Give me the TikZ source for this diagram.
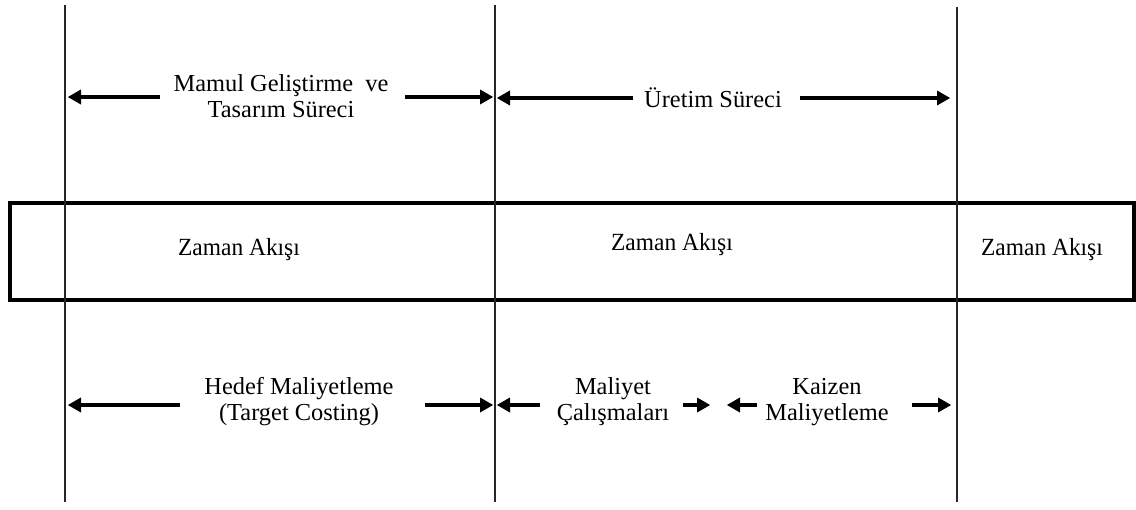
\documentclass[tikz,border=0pt]{standalone}
\usepackage{fontspec}
\setmainfont{Liberation Serif}
\usetikzlibrary{arrows.meta}
\tikzset{
  divider/.style={line width=1pt, draw=black!85},
  flowbox/.style={line width=3pt, draw=black},
  label/.style={align=center, font=\fontsize{18.3}{19.5}\selectfont, inner sep=0pt},
  flowlabel/.style={font=\fontsize{18.5}{19}\selectfont, inner sep=0pt, xscale=0.95},
  span/.style={line width=3pt, -{Triangle[length=10pt, width=10.5pt]}, shorten >=0.5pt}
}
\begin{document}
\begin{tikzpicture}[x=0.75pt, y=-0.75pt]
  \useasboundingbox (0,0) rectangle (1136,510);

  % time-flow band
  \coordinate (bandNW) at (10,203);
  \coordinate (bandSE) at (1134,300);
  \draw[flowbox] (bandNW) rectangle (bandSE);

  % phase boundaries
  \coordinate (aTop) at (65,5);    \coordinate (aBot) at (65,502);
  \coordinate (bTop) at (495,5);   \coordinate (bBot) at (495,502);
  \coordinate (cTop) at (957,7);   \coordinate (cBot) at (957,502);
  \draw[divider] (aTop) -- (aBot);
  \draw[divider] (bTop) -- (bBot);
  \draw[divider] (cTop) -- (cBot);

  % band labels
  \node[flowlabel] (z1) at (239,250) {Zaman Akışı};
  \node[flowlabel] (z2) at (672,245) {Zaman Akışı};
  \node[flowlabel] (z3) at (1042,250) {Zaman Akışı};

  % upper row: processes
  \node[label] (design) at (281,96) {Mamul Geliştirme~~ve\\Tasarım Süreci};
  \node[label] (prod) at (713,98) {Üretim Süreci};

  \coordinate (d1s) at (160,97);  \coordinate (d1e) at (67,97);
  \coordinate (d2s) at (405,97);  \coordinate (d2e) at (494,97);
  \coordinate (p1s) at (633,98);  \coordinate (p1e) at (496,98);
  \coordinate (p2s) at (800,98);  \coordinate (p2e) at (951,98);
  \draw[span] (d1s) -- (d1e);
  \draw[span] (d2s) -- (d2e);
  \draw[span] (p1s) -- (p1e);
  \draw[span] (p2s) -- (p2e);

  % lower row: costing methods
  \node[label] (target) at (299,402) {Hedef Maliyetleme\\(Target Costing)};
  \node[label] (study) at (613,402) {Maliyet\\Çalışmaları};
  \node[label] (kaizen) at (827,402) {Kaizen\\Maliyetleme};

  \coordinate (t1s) at (180,405); \coordinate (t1e) at (67,405);
  \coordinate (t2s) at (425,405); \coordinate (t2e) at (494,405);
  \coordinate (s1s) at (540,405); \coordinate (s1e) at (496,405);
  \coordinate (s2s) at (683,405); \coordinate (s2e) at (711,405);
  \coordinate (k1s) at (757,405); \coordinate (k1e) at (726,405);
  \coordinate (k2s) at (912,405); \coordinate (k2e) at (952,405);
  \draw[span] (t1s) -- (t1e);
  \draw[span] (t2s) -- (t2e);
  \draw[span] (s1s) -- (s1e);
  \draw[span] (s2s) -- (s2e);
  \draw[span] (k1s) -- (k1e);
  \draw[span] (k2s) -- (k2e);
\end{tikzpicture}
\end{document}
